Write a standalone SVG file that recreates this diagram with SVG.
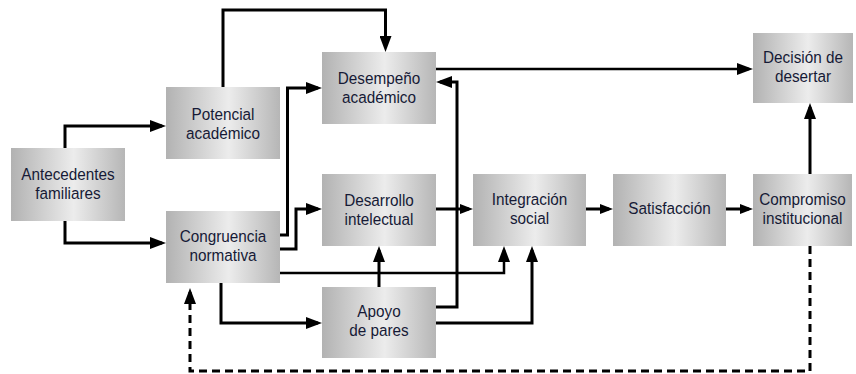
<svg xmlns="http://www.w3.org/2000/svg" width="856" height="374" viewBox="0 0 856 374">
<defs>
<linearGradient id="g" x1="0" y1="0" x2="1" y2="0">
<stop offset="0" stop-color="#b2b2b2"/>
<stop offset="0.55" stop-color="#ececec"/>
<stop offset="1" stop-color="#b6b6b6"/>
</linearGradient>
<marker id="a" markerUnits="userSpaceOnUse" markerWidth="16" markerHeight="12" refX="12" refY="6" orient="auto">
<path d="M0,0 L16,6 L0,12 z" fill="#000"/>
</marker>
<marker id="s" markerUnits="userSpaceOnUse" markerWidth="13" markerHeight="10" refX="9" refY="5" orient="auto">
<path d="M0,0 L13,5 L0,10 z" fill="#000"/>
</marker>
</defs>
<style>
.box{fill:url(#g);}
.t{font-family:"Liberation Sans",Arial,sans-serif;font-size:17px;fill:#161a36;text-anchor:middle;}
.c{fill:none;stroke:#000;stroke-width:3;}
.m{stroke-width:2.5;}
.d{stroke-dasharray:8 5;}
</style>
<g id="connectors">
<path class="c" d="M65,148 V126 H162" marker-end="url(#a)"/>
<path class="c" d="M65,221 V243 H162" marker-end="url(#a)"/>
<path class="c" d="M223,87 V10 H385.5 V48" marker-end="url(#a)"/>
<path class="c" d="M280,235 H287.5 V88 H318" marker-end="url(#a)"/>
<path class="c" d="M280,249 H296 V209 H318" marker-end="url(#a)"/>
<path class="c m" d="M280,273 H504 V250" marker-end="url(#a)"/>
<path class="c" d="M221,283 V323 H318" marker-end="url(#a)"/>
<path class="c" d="M379,287 V250" marker-end="url(#a)"/>
<path class="c" d="M436,307 H457 V82 H440" marker-end="url(#a)"/>
<path class="c" d="M436,323 H532 V250" marker-end="url(#a)"/>
<path class="c" d="M436,209 H469" marker-end="url(#s)"/>
<path class="c m" d="M436,69 H749" marker-end="url(#a)"/>
<path class="c" d="M586,209 H609" marker-end="url(#s)"/>
<path class="c" d="M726,209 H749" marker-end="url(#s)"/>
<path class="c" d="M810,174 V107" marker-end="url(#a)"/>
<path class="c d" d="M810,246 V371 H190 V292" marker-end="url(#a)"/>
</g>
<g id="antecedentes">
<rect class="box" x="11" y="148" width="114" height="73"/>
<text class="t" transform="translate(68,179.5) scale(0.9,1)"><tspan x="0" y="0">Antecedentes</tspan><tspan x="0" y="19.2">familiares</tspan></text>
</g>
<g id="potencial">
<rect class="box" x="166" y="87" width="114" height="72"/>
<text class="t" transform="translate(223,119.8) scale(0.9,1)"><tspan x="0" y="0">Potencial</tspan><tspan x="0" y="19.2">académico</tspan></text>
</g>
<g id="desempeno">
<rect class="box" x="322" y="52" width="114" height="72"/>
<text class="t" transform="translate(379,84.2) scale(0.9,1)"><tspan x="0" y="0">Desempeño</tspan><tspan x="0" y="19.2">académico</tspan></text>
</g>
<g id="congruencia">
<rect class="box" x="166" y="211" width="114" height="72"/>
<text class="t" transform="translate(223,241.5) scale(0.9,1)"><tspan x="0" y="0">Congruencia</tspan><tspan x="0" y="19.2">normativa</tspan></text>
</g>
<g id="desarrollo">
<rect class="box" x="322" y="174" width="114" height="72"/>
<text class="t" transform="translate(379,205.5) scale(0.9,1)"><tspan x="0" y="0">Desarrollo</tspan><tspan x="0" y="19.2">intelectual</tspan></text>
</g>
<g id="apoyo">
<rect class="box" x="322" y="287" width="114" height="71"/>
<text class="t" transform="translate(379,317) scale(0.9,1)"><tspan x="0" y="0">Apoyo</tspan><tspan x="0" y="19.2">de pares</tspan></text>
</g>
<g id="integracion">
<rect class="box" x="473" y="174" width="113" height="72"/>
<text class="t" transform="translate(529.5,205) scale(0.9,1)"><tspan x="0" y="0">Integración</tspan><tspan x="0" y="19.2">social</tspan></text>
</g>
<g id="satisfaccion">
<rect class="box" x="613" y="174" width="113" height="72"/>
<text class="t" transform="translate(669.5,214) scale(0.9,1)">Satisfacción</text>
</g>
<g id="compromiso">
<rect class="box" x="753" y="174" width="99" height="72"/>
<text class="t" transform="translate(802.5,205) scale(0.9,1)"><tspan x="0" y="0">Compromiso</tspan><tspan x="0" y="19.2">institucional</tspan></text>
</g>
<g id="decision">
<rect class="box" x="753" y="33" width="100" height="70"/>
<text class="t" transform="translate(803,63) scale(0.9,1)"><tspan x="0" y="0">Decisión de</tspan><tspan x="0" y="19.2">desertar</tspan></text>
</g>
</svg>
